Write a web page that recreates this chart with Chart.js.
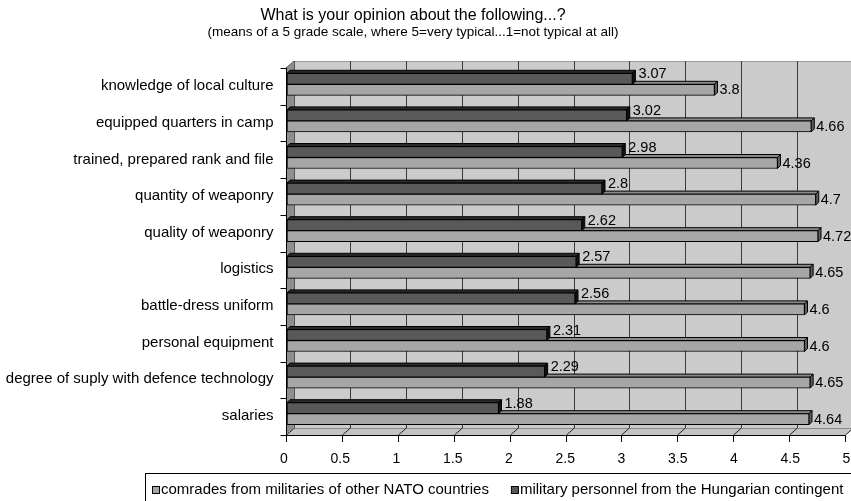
<!DOCTYPE html>
<html>
<head>
<meta charset="utf-8">
<script src="https://cdn.jsdelivr.net/npm/chart.js@4/dist/chart.umd.min.js"></script>
<style>
  html, body { margin: 0; padding: 0; background: #fff; }
  #wrap { width: 851px; height: 501px; position: relative; }
</style>
</head>
<body>
<div id="wrap"><canvas id="chart" width="851" height="501"></canvas></div>
<script>
// ---- data ----
const categories = [
  'knowledge of local culture',
  'equipped quarters in camp',
  'trained, prepared rank and file',
  'quantity of weaponry',
  'quality of weaponry',
  'logistics',
  'battle-dress uniform',
  'personal equipment',
  'degree of suply with defence technology',
  'salaries'
];
const natoValues      = [3.8, 4.66, 4.36, 4.7, 4.72, 4.65, 4.6, 4.6, 4.65, 4.64];
const hungarianValues = [3.07, 3.02, 2.98, 2.8, 2.62, 2.57, 2.56, 2.31, 2.29, 1.88];
const natoName      = 'comrades from militaries of other NATO countries';
const hungarianName = 'military personnel from the Hungarian contingent';
const xTickValues = [0, 0.5, 1, 1.5, 2, 2.5, 3, 3.5, 4, 4.5, 5];
const titleLines = [
  'What is your opinion about the following...?',
  '(means of a 5 grade scale, where 5=very typical...1=not typical at all)'
];

// ---- look ----
const FONT = "'Liberation Sans', Arial, Helvetica, sans-serif";
const WALL = '#cbcbcb';
const SIDE = '#8e8e8e';
const FLOOR = '#c4c4c4';
const GRID = '#3a3a3a';
const DEPTH = { x: 8, y: -7 };      // front plane -> back wall
const BAR_DEPTH = 3;                // depth of each bar box
const FRONT_SCALE = 559 / 562.5;    // front axis is slightly shorter than the bar plane

Chart.defaults.font.family = FONT;
Chart.defaults.color = '#000';

function poly(ctx, pts, fill, stroke) {
  ctx.beginPath();
  ctx.moveTo(pts[0][0], pts[0][1]);
  for (let i = 1; i < pts.length; i++) ctx.lineTo(pts[i][0], pts[i][1]);
  ctx.closePath();
  if (fill) { ctx.fillStyle = fill; ctx.fill(); }
  if (stroke) { ctx.strokeStyle = stroke; ctx.lineWidth = 1; ctx.stroke(); }
}
function seg(ctx, x1, y1, x2, y2, color, w) {
  ctx.beginPath();
  ctx.moveTo(x1, y1); ctx.lineTo(x2, y2);
  ctx.strokeStyle = color; ctx.lineWidth = w || 1; ctx.stroke();
}

// 3D box: walls, floor, axes, bar faces and value labels
const scene3d = {
  id: 'scene3d',
  beforeDatasetsDraw(chart) {
    const { ctx, chartArea: a, scales: { x } } = chart;
    const W = chart.width;
    const fl = a.left - 1, ft = a.top + 2, fb = a.bottom + 3;
    const bl = fl + DEPTH.x, bt = ft + DEPTH.y, bb = fb + DEPTH.y;
    const x0 = x.getPixelForValue(0);
    const frontX = v => fl + (x.getPixelForValue(v) - x0) * FRONT_SCALE;
    const fr = frontX(5);

    ctx.save();
    // back wall
    ctx.fillStyle = WALL;
    ctx.fillRect(bl, bt, W - bl, bb - bt);
    seg(ctx, bl, bt + 0.5, W, bt + 0.5, '#9c9c9c');
    // side wall
    poly(ctx, [[fl, ft], [bl, bt], [bl, bb], [fl, fb]], SIDE);
    // floor
    poly(ctx, [[fl, fb], [bl, bb], [fr + DEPTH.x, bb], [fr, fb]], FLOOR);
    seg(ctx, bl, bb + 0.5, W, bb + 0.5, '#8a8a8a');

    // value gridlines on the wall and on the floor
    xTickValues.forEach(v => {
      const px = Math.round(frontX(v)) + 0.5;
      if (v > 0) seg(ctx, px + DEPTH.x, bt, px + DEPTH.x, bb, GRID);
      seg(ctx, px, fb, px + DEPTH.x, bb, '#222');
      seg(ctx, px, fb, px, fb + 7, '#000');           // tick mark
    });
    seg(ctx, bl + 0.5, bt, bl + 0.5, bb, '#555');     // wall corner
    seg(ctx, fl, ft, bl, bt, '#555');                 // top-left edge

    // front axes
    const xl = Math.round(fl) + 0.5;
    seg(ctx, xl, ft, xl, fb + 7, '#000');
    seg(ctx, xl, Math.round(fb) + 0.5, fr, Math.round(fb) + 0.5, '#000');
    const band = (fb - ft) / categories.length;
    for (let i = 0; i <= categories.length; i++) {
      const py = Math.round(ft + i * band) + 0.5;
      seg(ctx, xl - 6, py, xl, py, '#000');
    }

    // top faces and end caps of the bars (front faces drawn by Chart.js)
    const d = BAR_DEPTH;
    [1, 0].forEach(di => {
      const ds = chart.data.datasets[di];
      chart.getDatasetMeta(di).data.forEach(el => {
        const top = el.y - el.height / 2, bot = el.y + el.height / 2;
        const l = el.base, r = el.x;
        poly(ctx, [[l, top], [r, top], [r + d, top - d], [l + d, top - d]], ds.faceColor, '#000');
        poly(ctx, [[r, top], [r + d, top - d], [r + d, bot - d], [r, bot]], ds.capColor, '#000');
      });
    });
    ctx.restore();
  },
  afterDatasetsDraw(chart) {
    const { ctx } = chart;
    ctx.save();
    ctx.font = '14.5px ' + FONT;
    ctx.fillStyle = '#000';
    ctx.textAlign = 'left';
    ctx.textBaseline = 'middle';
    chart.data.datasets.forEach((ds, di) => {
      chart.getDatasetMeta(di).data.forEach((el, i) => {
        const txt = String(ds.data[i]);
        if (ds.labelAbove) ctx.fillText(txt, el.x + 6, el.y - 4.5);
        else ctx.fillText(txt, el.x + 5, el.y + 0.5);
      });
    });
    ctx.restore();
  },
  afterDraw(chart) {
    const { ctx } = chart;
    ctx.save();
    // title
    ctx.fillStyle = '#000';
    ctx.textAlign = 'center';
    ctx.textBaseline = 'middle';
    ctx.font = '16px ' + FONT;
    ctx.fillText(titleLines[0], 413, 16);
    ctx.font = '13.5px ' + FONT;
    ctx.fillText(titleLines[1], 413, 32.5);

    // legend
    ctx.font = '15px ' + FONT;
    ctx.strokeStyle = '#000';
    ctx.lineWidth = 1;
    ctx.strokeRect(145.5, 473.5, 720, 40);
    const items = [1, 0].map(di => chart.data.datasets[di]);
    let lx = 152;
    const ly = 490;
    ctx.textAlign = 'left';
    items.forEach(ds => {
      ctx.fillStyle = ds.backgroundColor;
      ctx.fillRect(lx + 0.5, ly - 3.5, 7, 7);
      ctx.strokeRect(lx + 0.5, ly - 3.5, 7, 7);
      ctx.fillStyle = '#000';
      ctx.fillText(ds.label, lx + 9, ly);
      lx += 9 + ctx.measureText(ds.label).width + 22;
    });
    ctx.restore();
  }
};

new Chart(document.getElementById('chart'), {
  type: 'bar',
  data: {
    labels: categories,
    datasets: [
      {
        label: hungarianName, data: hungarianValues,
        backgroundColor: '#595959', borderColor: '#000', borderWidth: 1, borderSkipped: false,
        barThickness: 11, faceColor: '#2a2a2a', capColor: '#111', labelAbove: true
      },
      {
        label: natoName, data: natoValues,
        backgroundColor: '#a6a6a6', borderColor: '#000', borderWidth: 1, borderSkipped: false,
        barThickness: 11, faceColor: '#8a8a8a', capColor: '#5e5e5e', labelAbove: false
      }
    ]
  },
  options: {
    responsive: false,
    animation: false,
    indexAxis: 'y',
    layout: { padding: { top: 66, right: 1.5, bottom: 0, left: 0 } },
    scales: {
      x: {
        min: 0, max: 5,
        afterBuildTicks(s) { s.ticks = xTickValues.map(v => ({ value: v })); },
        ticks: {
          callback: v => String(v), autoSkip: false, maxRotation: 0,
          padding: 19, labelOffset: -3, font: { size: 14 }, color: '#000'
        },
        grid: { display: false, drawTicks: false },
        border: { display: false },
        afterFit(s) { s.height = 69; s.paddingLeft = 0; s.paddingRight = 0; }
      },
      y: {
        ticks: { padding: 13.5, labelOffset: 2, font: { size: 15 }, color: '#000', autoSkip: false },
        grid: { display: false, drawTicks: false },
        border: { display: false },
        afterFit(s) { s.width = 287; s.paddingTop = 0; s.paddingBottom = 0; }
      }
    },
    plugins: {
      legend: { display: false },
      tooltip: { enabled: false },
      title: { display: false }
    }
  },
  plugins: [scene3d]
});
</script>
</body>
</html>
